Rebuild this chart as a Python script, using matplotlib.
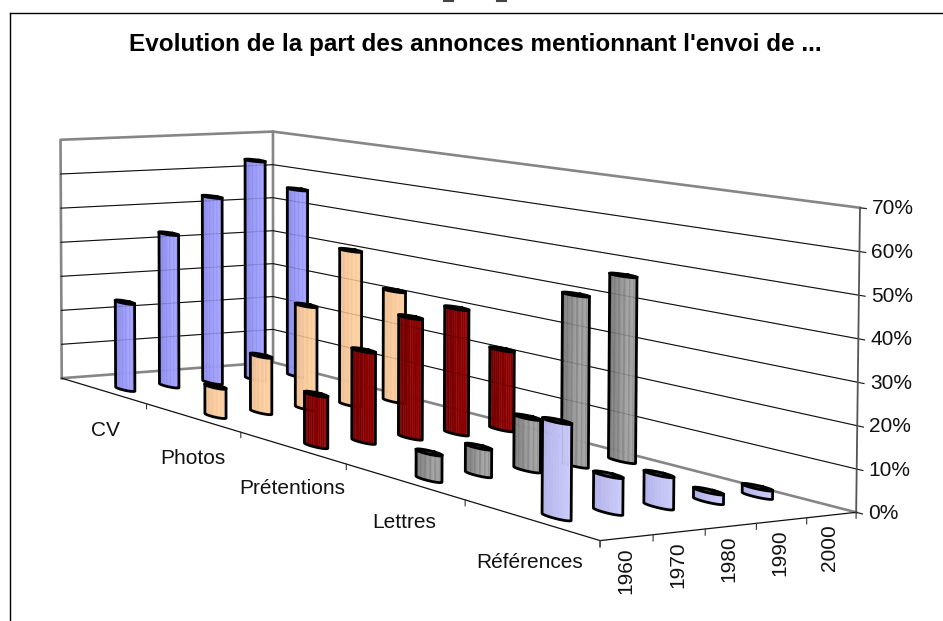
import numpy as np
import matplotlib
matplotlib.use('Agg')
from matplotlib import pyplot as plt
from matplotlib.lines import Line2D
from matplotlib.transforms import Affine2D
from mpl_toolkits.mplot3d.art3d import Poly3DCollection

W, H = 943, 621
plt.rcParams['font.family'] = ['Liberation Sans', 'DejaVu Sans']

title = "Evolution de la part des annonces mentionnant l'envoi de ..."
categories = ['CV', 'Photos', 'Prétentions', 'Lettres', 'Références']
years = ['1960', '1970', '1980', '1990', '2000']
pct_ticks = [0, 10, 20, 30, 40, 50, 60, 70]

cv = [25, 44, 54, 64, 55]
photos = [8, 15.5, 28.5, 43, 31]
pretentions = [13.3, 23.7, 31.5, 33, 21.2]
lettres = [6.5, 6.8, 13, 42.5, 46.5]
references = [22, 8.5, 7.5, 2.3, 2]
series = [cv, photos, pretentions, lettres, references]

# dark side, light side of each cylinder
colours = [('#7C7CE0', '#A4A4FF'), ('#E6B88C', '#FFD2A4'), ('#620000', '#900000'),
           ('#666666', '#A4A4A4'), ('#ACACE6', '#D2D2FF')]

# camera calibration: box corners of the chart -> pixels in the picture
box = [(0, 0, 0), (5, 0, 0), (0, 5, 0), (5, 5, 0), (0, 0, 70), (5, 0, 70), (5, 5, 70),
       (0, 0, 30), (5, 0, 30), (5, 5, 30)]
pix = [(62, 378), (273, 363), (600, 541), (856, 512), (60.5, 140), (273, 131.7), (860, 208),
       (61, 276), (273, 263), (858, 382)]

A, b = [], []
for (u, v, z), (px, py) in zip(box, pix):
    A.append([u, v, z, 1, 0, 0, 0, 0, -px*u, -px*v, -px*z])
    A.append([0, 0, 0, 0, u, v, z, 1, -py*u, -py*v, -py*z])
    b += [px, py]
p = np.linalg.lstsq(np.array(A, float), np.array(b, float), rcond=None)[0]
M = np.array([[p[0], p[1], p[2], p[3]],
              [p[4], p[5], p[6], p[7]],
              [0, 0, 0, 1],
              [p[8], p[9], p[10], 1]])


def to_pixel(u, v, z):
    q = M @ np.array([u, v, z, 1.0])
    return q[0]/q[3], q[1]/q[3]


fig = plt.figure(figsize=(W/100, H/100), dpi=100, facecolor='white')
ax = fig.add_axes([0, 0, 1, 1], projection='3d')
ax.set_axis_off()
ax.set_proj_type('ortho')  # no clipping of lines to [-1, 1]
ax.computed_zorder = False
ax.apply_aspect = lambda position=None: None


def fixed_proj():
    ax.viewLim.intervalx = (0, W)
    ax.viewLim.intervaly = (H, 0)
    return M


ax.get_proj = fixed_proj
fixed_proj()

GREY = '#868686'
# walls and floor
ax.plot([0, 0, 5, 5, 5], [0, 0, 0, 0, 5], [0, 70, 70, 0, 0], color=GREY, lw=1.9, zorder=1)
ax.plot([5, 0], [0, 0], [0, 0], color=GREY, lw=1.9, zorder=1)
ax.plot([5, 5], [0, 5], [70, 70], color=GREY, lw=1.9, zorder=1)
for z in pct_ticks[1:-1]:
    ax.plot([0, 5, 5], [0, 0, 5], [z, z, z], color='#111111', lw=0.8, zorder=2)
    ax.plot([5, 5], [5, 5.04], [z, z], color='#111111', lw=0.8, zorder=2)
for z in (0, 70):
    ax.plot([5, 5], [5, 5.04], [z, z], color='#222222', lw=0.9, zorder=3)

# axis lines and ticks
ax.plot([0, 0, 5], [0, 5, 5], [0, 0, 0], color='#111111', lw=0.9, zorder=3)
ax.plot([5, 5], [5, 5], [0, 70], color='#555555', lw=1.3, zorder=3)
for i in range(1, 6):
    ax.plot([0, 0], [i, i], [0, -1.4], color='#333333', lw=0.8, zorder=3)
for i in range(0, 6):
    ax.plot([i, i], [5, 5], [0, -1.4], color='#333333', lw=0.8, zorder=3)

# cylinders, back row first
R = 0.1
N = 16
shade = [0.0, 0.1, 0.22, 0.5, 0.36, 0.62, 0.5, 0.85, 0.6, 1.0, 0.7, 1.0, 0.72, 0.9, 0.55, 0.4]
ring = np.linspace(0, 2*np.pi, 240, endpoint=False)

for j, values in enumerate(series):
    dark = np.array(matplotlib.colors.to_rgb(colours[j][0]))
    light = np.array(matplotlib.colors.to_rgb(colours[j][1]))
    if j == 4:
        shade_j = np.linspace(0, 1, N)
    else:
        shade_j = shade
    face = [tuple(dark + (light - dark)*s) for s in shade_j]
    for i, val in enumerate(values):
        u0, v0 = i + 0.5, j + 0.5
        us = u0 + R*np.cos(ring)
        vs = v0 + R*np.sin(ring)
        xy = np.array([to_pixel(a, c, 0) for a, c in zip(us, vs)])
        left, right = int(np.argmin(xy[:, 0])), int(np.argmax(xy[:, 0]))
        k1 = (np.arange(left, left + ((right - left) % 240) + 1)) % 240
        k2 = (np.arange(left, left - ((left - right) % 240) - 1, -1)) % 240
        arc = k1 if xy[k1, 1].mean() > xy[k2, 1].mean() else k2
        pick = arc[np.linspace(0, len(arc) - 1, N + 1).astype(int)]
        ua, va = us[pick], vs[pick]
        zo = 10 + 10*j

        polys = []
        for n in range(N):
            polys.append([(ua[n], va[n], 0), (ua[n+1], va[n+1], 0),
                          (ua[n+1], va[n+1], val), (ua[n], va[n], val)])
        ax.add_collection3d(Poly3DCollection(polys, facecolors=face, edgecolors=face,
                                             linewidths=0.3, zorder=zo))
        ax.add_collection3d(Poly3DCollection([list(zip(us, vs, [val]*240))], facecolors=[light],
                                             edgecolors='none', zorder=zo + 1))
        ax.plot(np.r_[us, us[0]], np.r_[vs, vs[0]], [val]*241, color='black', lw=2.2, zorder=zo + 2)
        ua_all, va_all = us[arc], vs[arc]
        ax.plot(np.r_[ua_all[0], ua_all, ua_all[-1]], np.r_[va_all[0], va_all, va_all[-1]],
                np.r_[val, np.zeros(len(arc)), val], color='black', lw=2.0, zorder=zo + 2)

# gridlines show faintly through the bars
for z in pct_ticks[1:-1]:
    ax.plot([0, 5, 5], [0, 0, 5], [z, z, z], color='black', lw=0.7, alpha=0.13, zorder=80)

px_trans = Affine2D().scale(1, -1).translate(0, H)
for xs, ys, c, lw in [([9.5, 9.5], [H, 12.5], 'black', 1.0), ([9.5, W], [12.5, 12.5], 'black', 1.0),
                      ([444, 453], [1, 1], '#444444', 1.5), ([497, 506], [1, 1], '#444444', 1.5)]:
    fig.add_artist(Line2D(xs, ys, color=c, lw=lw, transform=px_trans))

ax.text2D(475, 45, title, transform=ax.transData, ha='center', va='center',
          fontsize=17.5, fontweight='bold', color='black')
for z in pct_ticks:
    x, y = to_pixel(5, 5, z)
    ax.text2D(x + 12, y + 1, f'{z}%', transform=ax.transData, ha='left', va='center',
              fontsize=15, color='#111111')
label_pos = [(105, 431), (193, 458), (292, 488), (404, 522), (530, 562)]
for name, (x, y) in zip(categories, label_pos):
    ax.text2D(x, y, name, transform=ax.transData, ha='center', va='center',
              fontsize=15, color='#111111')
year_pos = [(626, 571), (678, 565), (729, 559), (780, 553), (830, 548)]
for name, (x, y) in zip(years, year_pos):
    ax.text2D(x, y, name, transform=ax.transData, ha='center', va='center', rotation=90,
              fontsize=15, color='#111111')

fig.savefig('out.png', dpi=100)
